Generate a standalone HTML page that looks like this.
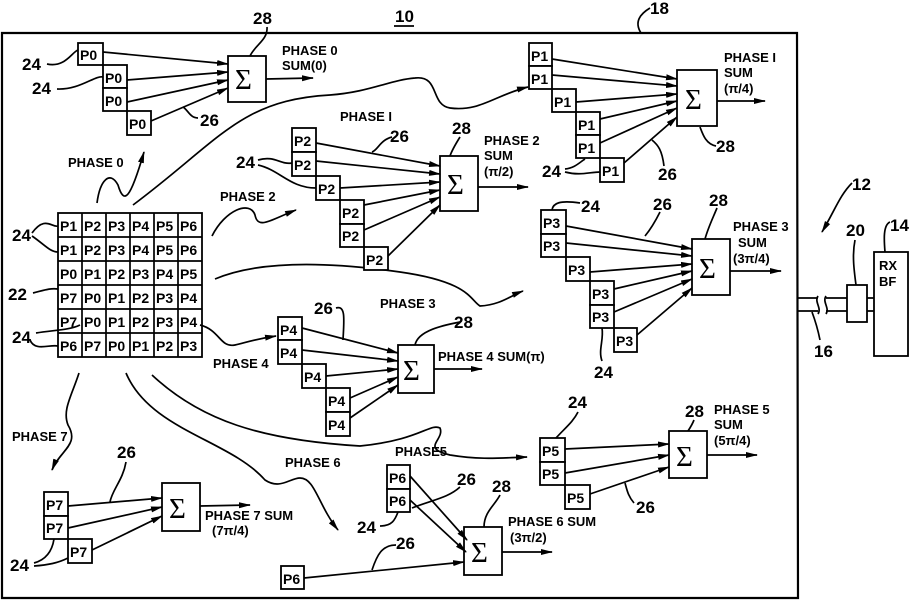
<!DOCTYPE html>
<html><head><meta charset="utf-8"><style>
html,body{margin:0;padding:0;background:#fff}
svg{display:block}
text{font-family:"Liberation Sans",sans-serif;font-weight:bold;fill:#000}
.p{font-size:14px}
.n{font-size:17px}
.l{font-size:13px}
.s{font-family:"Liberation Serif",serif;font-size:29px;font-weight:normal}
rect{fill:#fff;stroke:#000;stroke-width:1.8}
path,line{stroke:#000;fill:none;stroke-width:1.7}
</style></head><body>
<svg width="912" height="601" viewBox="0 0 912 601" xmlns="http://www.w3.org/2000/svg">
<defs><marker id="a" markerWidth="12" markerHeight="8" refX="11" refY="4" orient="auto" markerUnits="userSpaceOnUse"><path d="M0,1 L12,4 L0,7 Z" style="fill:#000;stroke:none"/></marker></defs>
<path d="M2,33 L797,33 L798,598 L2,598 Z" style="stroke-width:2.2"/>
<text x="395" y="22" class="n">10</text><line x1="394" y1="26" x2="414" y2="26"/>
<text x="650" y="14" class="n">18</text><path d="M650,8 C640,14 634,22 641,33"/>

<rect x="78" y="43" width="25" height="22"/><rect x="103" y="65" width="24" height="23"/><rect x="103" y="88" width="24" height="23"/><rect x="127" y="111" width="24" height="24"/>
<text x="80" y="60" class="p">P0</text><text x="105" y="83" class="p">P0</text><text x="105" y="106" class="p">P0</text><text x="129" y="129" class="p">P0</text>
<rect x="228" y="56" width="38" height="46"/><text x="235" y="89" class="s">Σ</text>
<line x1="103" y1="52" x2="228" y2="64" marker-end="url(#a)"/><line x1="127" y1="80" x2="228" y2="72" marker-end="url(#a)"/><line x1="127" y1="102" x2="228" y2="80" marker-end="url(#a)"/><line x1="151" y1="121" x2="228" y2="88" marker-end="url(#a)"/>
<line x1="266" y1="79" x2="313" y2="78" marker-end="url(#a)"/>
<text x="282" y="55" class="l">PHASE 0</text><text x="282" y="70" class="l">SUM(0)</text>
<text x="253" y="24" class="n">28</text><path d="M267,27 C268,40 255,45 250,56"/>
<text x="22" y="70" class="n">24</text><path d="M47,64 C65,68 72,52 78,50"/>
<text x="32" y="94" class="n">24</text><path d="M57,89 C80,90 95,75 103,77"/>
<text x="200" y="126" class="n">26</text><path d="M198,118 C190,118 188,110 183,107"/>

<g>
<rect x="58" y="213" width="144" height="144"/>
<path d="M82,213V357M106,213V357M130,213V357M154,213V357M178,213V357M58,237H202M58,261H202M58,285H202M58,309H202M58,333H202"/>
<g class="p">
<text x="60" y="231">P1</text><text x="84" y="231">P2</text><text x="108" y="231">P3</text><text x="132" y="231">P4</text><text x="156" y="231">P5</text><text x="180" y="231">P6</text>
<text x="60" y="255">P1</text><text x="84" y="255">P2</text><text x="108" y="255">P3</text><text x="132" y="255">P4</text><text x="156" y="255">P5</text><text x="180" y="255">P6</text>
<text x="60" y="279">P0</text><text x="84" y="279">P1</text><text x="108" y="279">P2</text><text x="132" y="279">P3</text><text x="156" y="279">P4</text><text x="180" y="279">P5</text>
<text x="60" y="303">P7</text><text x="84" y="303">P0</text><text x="108" y="303">P1</text><text x="132" y="303">P2</text><text x="156" y="303">P3</text><text x="180" y="303">P4</text>
<text x="60" y="327">P7</text><text x="84" y="327">P0</text><text x="108" y="327">P1</text><text x="132" y="327">P2</text><text x="156" y="327">P3</text><text x="180" y="327">P4</text>
<text x="60" y="351">P6</text><text x="84" y="351">P7</text><text x="108" y="351">P0</text><text x="132" y="351">P1</text><text x="156" y="351">P2</text><text x="180" y="351">P3</text>
</g></g>
<text x="12" y="241" class="n">24</text><path d="M32,233 C45,215 52,228 58,226 M32,236 C45,245 50,252 58,252"/>
<text x="8" y="300" class="n">22</text><path d="M33,293 C45,290 50,288 58,289"/>
<text x="12" y="343" class="n">24</text><path d="M36,333 C55,330 70,330 80,325 M30,340 C35,352 50,344 58,346"/>

<text x="68" y="167" class="l">PHASE 0</text>
<path d="M97,203 C100,180 110,170 118,185 C124,205 130,200 144,152" marker-end="url(#a)"/>
<path d="M133,205 C220,140 240,100 330,95 C370,92 390,80 415,78 C440,75 430,105 450,108 C480,112 495,95 528,87" marker-end="url(#a)"/>
<text x="340" y="121" class="l">PHASE I</text>
<text x="220" y="201" class="l">PHASE 2</text>
<path d="M212,236 C225,210 250,200 255,215 C258,230 270,220 296,210" marker-end="url(#a)"/>
<path d="M215,279 C260,260 330,262 400,272 C470,282 470,300 480,306 C500,305 510,296 523,291" marker-end="url(#a)"/>
<text x="380" y="308" class="l">PHASE 3</text>
<path d="M200,325 C220,330 220,348 235,345 C245,343 250,340 276,336" marker-end="url(#a)"/>
<text x="213" y="368" class="l">PHASE 4</text>
<path d="M152,375 C200,420 260,440 360,446 C420,440 430,423 440,428 C445,440 420,448 450,455 C480,460 500,458 527,457" marker-end="url(#a)"/>
<text x="395" y="456" class="l">PHASE5</text>
<path d="M126,373 C150,430 230,440 265,480 C280,490 290,478 300,478 C315,478 318,505 338,530" marker-end="url(#a)"/>
<text x="285" y="467" class="l">PHASE 6</text>
<path d="M79,373 C72,395 62,410 68,425 C80,445 60,450 52,470" marker-end="url(#a)"/>
<text x="12" y="441" class="l">PHASE 7</text>

<rect x="292" y="128" width="24" height="24"/><rect x="292" y="152" width="24" height="24"/><rect x="316" y="176" width="24" height="24"/><rect x="340" y="200" width="24" height="24"/><rect x="340" y="224" width="24" height="23"/><rect x="364" y="247" width="24" height="23"/>
<g class="p"><text x="294" y="146">P2</text><text x="294" y="170">P2</text><text x="318" y="194">P2</text><text x="342" y="218">P2</text><text x="342" y="241">P2</text><text x="366" y="265">P2</text></g>
<rect x="440" y="156" width="38" height="55"/><text x="447" y="194" class="s">Σ</text>
<line x1="316" y1="143" x2="440" y2="166" marker-end="url(#a)"/><line x1="316" y1="161" x2="440" y2="174" marker-end="url(#a)"/><line x1="340" y1="188" x2="440" y2="182" marker-end="url(#a)"/><line x1="364" y1="205" x2="440" y2="190" marker-end="url(#a)"/><line x1="364" y1="230" x2="440" y2="197" marker-end="url(#a)"/><line x1="388" y1="256" x2="440" y2="205" marker-end="url(#a)"/>
<line x1="478" y1="187" x2="528" y2="187" marker-end="url(#a)"/>
<text x="484" y="145" class="l">PHASE 2</text><text x="484" y="160" class="l">SUM</text><text x="484" y="176" class="l">(π/2)</text>
<text x="452" y="134" class="n">28</text><path d="M460,137 C455,145 452,150 450,156"/>
<text x="390" y="142" class="n">26</text><path d="M392,137 C380,140 378,150 372,152"/>
<text x="236" y="168" class="n">24</text><path d="M258,160 C275,155 280,165 292,163 M258,165 C280,170 290,188 316,188"/>

<rect x="529" y="43" width="23" height="23"/><rect x="529" y="66" width="23" height="23"/><rect x="552" y="89" width="24" height="23"/><rect x="576" y="112" width="24" height="23"/><rect x="576" y="135" width="24" height="23"/><rect x="600" y="158" width="24" height="24"/>
<g class="p"><text x="531" y="61">P1</text><text x="531" y="84">P1</text><text x="554" y="107">P1</text><text x="578" y="130">P1</text><text x="578" y="153">P1</text><text x="602" y="176">P1</text></g>
<rect x="677" y="70" width="40" height="56"/><text x="685" y="109" class="s">Σ</text>
<line x1="552" y1="59" x2="677" y2="79" marker-end="url(#a)"/><line x1="552" y1="75" x2="677" y2="86" marker-end="url(#a)"/><line x1="576" y1="102" x2="677" y2="94" marker-end="url(#a)"/><line x1="600" y1="119" x2="677" y2="101" marker-end="url(#a)"/><line x1="600" y1="143" x2="677" y2="108" marker-end="url(#a)"/><line x1="624" y1="163" x2="677" y2="117" marker-end="url(#a)"/>
<line x1="717" y1="101" x2="765" y2="101" marker-end="url(#a)"/>
<text x="724" y="62" class="l">PHASE I</text><text x="724" y="77" class="l">SUM</text><text x="724" y="93" class="l">(π/4)</text>
<text x="716" y="152" class="n">28</text><path d="M716,146 C706,144 703,135 700,127"/>
<text x="658" y="180" class="n">26</text><path d="M664,166 C662,150 658,145 652,140"/>
<text x="542" y="177" class="n">24</text><path d="M565,169 C575,168 580,162 585,159 M565,172 C580,176 590,172 600,172"/>

<rect x="541" y="210" width="25" height="24"/><rect x="541" y="234" width="25" height="23"/><rect x="566" y="257" width="24" height="24"/><rect x="590" y="281" width="24" height="24"/><rect x="590" y="305" width="24" height="23"/><rect x="614" y="328" width="23" height="24"/>
<g class="p"><text x="543" y="228">P3</text><text x="543" y="251">P3</text><text x="568" y="275">P3</text><text x="592" y="299">P3</text><text x="592" y="322">P3</text><text x="616" y="346">P3</text></g>
<rect x="692" y="239" width="38" height="56"/><text x="699" y="278" class="s">Σ</text>
<line x1="566" y1="226" x2="692" y2="249" marker-end="url(#a)"/><line x1="566" y1="243" x2="692" y2="256" marker-end="url(#a)"/><line x1="590" y1="272" x2="692" y2="264" marker-end="url(#a)"/><line x1="614" y1="289" x2="692" y2="271" marker-end="url(#a)"/><line x1="614" y1="312" x2="692" y2="279" marker-end="url(#a)"/><line x1="637" y1="335" x2="692" y2="288" marker-end="url(#a)"/>
<line x1="730" y1="271" x2="781" y2="271" marker-end="url(#a)"/>
<text x="733" y="231" class="l">PHASE 3</text><text x="738" y="247" class="l">SUM</text><text x="733" y="263" class="l">(3π/4)</text>
<text x="581" y="212" class="n">24</text><path d="M580,203 C560,200 553,203 552,210"/>
<text x="653" y="210" class="n">26</text><path d="M660,212 C655,222 650,230 645,236"/>
<text x="709" y="206" class="n">28</text><path d="M717,208 C712,220 708,228 705,239"/>
<text x="594" y="378" class="n">24</text><path d="M602,361 C598,350 604,340 602,328"/>

<rect x="278" y="317" width="24" height="23"/><rect x="278" y="340" width="24" height="24"/><rect x="302" y="364" width="24" height="24"/><rect x="326" y="388" width="24" height="24"/><rect x="326" y="412" width="24" height="24"/>
<g class="p"><text x="280" y="335">P4</text><text x="280" y="358">P4</text><text x="304" y="382">P4</text><text x="328" y="406">P4</text><text x="328" y="430">P4</text></g>
<rect x="398" y="345" width="36" height="48"/><text x="403" y="380" class="s">Σ</text>
<line x1="302" y1="328" x2="398" y2="353" marker-end="url(#a)"/><line x1="302" y1="350" x2="398" y2="361" marker-end="url(#a)"/><line x1="326" y1="376" x2="398" y2="369" marker-end="url(#a)"/><line x1="350" y1="398" x2="398" y2="377" marker-end="url(#a)"/><line x1="350" y1="418" x2="398" y2="385" marker-end="url(#a)"/>
<line x1="434" y1="369" x2="482" y2="369" marker-end="url(#a)"/>
<text x="438" y="361" class="l">PHASE 4 SUM(π)</text>
<text x="314" y="314" class="n">26</text><path d="M336,308 C346,305 344,320 343,340"/>
<text x="454" y="328" class="n">28</text><path d="M460,322 C445,325 418,330 415,345"/>

<rect x="540" y="438" width="25" height="24"/><rect x="540" y="462" width="25" height="23"/><rect x="565" y="485" width="25" height="24"/>
<g class="p"><text x="542" y="456">P5</text><text x="542" y="479">P5</text><text x="567" y="503">P5</text></g>
<rect x="669" y="431" width="38" height="47"/><text x="676" y="466" class="s">Σ</text>
<line x1="565" y1="449" x2="669" y2="444" marker-end="url(#a)"/><line x1="565" y1="473" x2="669" y2="455" marker-end="url(#a)"/><line x1="590" y1="494" x2="669" y2="467" marker-end="url(#a)"/>
<line x1="707" y1="455" x2="757" y2="455" marker-end="url(#a)"/>
<text x="714" y="414" class="l">PHASE 5</text><text x="714" y="429" class="l">SUM</text><text x="714" y="445" class="l">(5π/4)</text>
<text x="685" y="417" class="n">28</text><path d="M694,420 C692,425 690,428 688,431"/>
<text x="568" y="408" class="n">24</text><path d="M578,412 C573,422 565,428 556,438"/>
<text x="636" y="513" class="n">26</text><path d="M634,503 C628,496 627,490 625,483"/>

<rect x="387" y="465" width="23" height="24"/><rect x="387" y="489" width="23" height="23"/><rect x="281" y="566" width="23" height="23"/>
<g class="p"><text x="389" y="483">P6</text><text x="389" y="506">P6</text><text x="283" y="584">P6</text></g>
<rect x="464" y="527" width="38" height="48"/><text x="471" y="562" class="s">Σ</text>
<line x1="410" y1="476" x2="467" y2="540" marker-end="url(#a)"/><line x1="410" y1="500" x2="466" y2="552" marker-end="url(#a)"/><line x1="304" y1="578" x2="464" y2="562" marker-end="url(#a)"/>
<line x1="502" y1="552" x2="552" y2="552" marker-end="url(#a)"/>
<text x="508" y="526" class="l">PHASE 6 SUM</text><text x="510" y="542" class="l">(3π/2)</text>
<text x="457" y="485" class="n">26</text><path d="M460,487 C448,498 432,500 412,508"/>
<text x="492" y="492" class="n">28</text><path d="M500,495 C495,505 484,512 484,527"/>
<text x="357" y="533" class="n">24</text><path d="M380,526 C392,526 395,520 398,512"/>
<text x="396" y="549" class="n">26</text><path d="M396,545 C382,545 377,555 372,570"/>

<rect x="44" y="492" width="24" height="24"/><rect x="44" y="516" width="24" height="23"/><rect x="68" y="539" width="24" height="24"/>
<g class="p"><text x="46" y="510">P7</text><text x="46" y="533">P7</text><text x="70" y="557">P7</text></g>
<rect x="162" y="483" width="38" height="48"/><text x="169" y="518" class="s">Σ</text>
<line x1="68" y1="506" x2="162" y2="498" marker-end="url(#a)"/><line x1="68" y1="528" x2="162" y2="507" marker-end="url(#a)"/><line x1="92" y1="550" x2="162" y2="516" marker-end="url(#a)"/>
<line x1="200" y1="506" x2="250" y2="505" marker-end="url(#a)"/>
<text x="205" y="520" class="l">PHASE 7 SUM</text><text x="212" y="535" class="l">(7π/4)</text>
<text x="117" y="458" class="n">26</text><path d="M126,462 C123,480 112,490 110,502"/>
<text x="10" y="571" class="n">24</text><path d="M34,563 C45,560 52,552 54,539 M34,566 C48,565 58,563 68,558"/>

<text x="852" y="190" class="n">12</text><path d="M852,183 C840,195 835,210 822,232" marker-end="url(#a)"/>
<text x="846" y="236" class="n">20</text><path d="M855,240 C852,255 854,270 856,285"/>
<rect x="847" y="285" width="20" height="37"/>
<rect x="874" y="252" width="34" height="104"/>
<text x="879" y="270" class="l">RX</text><text x="879" y="286" class="l">BF</text>
<text x="890" y="231" class="n">14</text><path d="M890,222 C883,225 884,240 885,252"/>
<path d="M798,298 L818,298 M798,311 L818,311 M818,296 C814,302 822,308 818,314 M826,298 L847,298 M826,311 L847,311 M826,296 C822,302 830,308 826,314 M867,298 L874,298 M867,311 L874,311"/>
<text x="814" y="357" class="n">16</text><path d="M820,340 C818,330 815,320 812,312"/>
</svg>
</body></html>
